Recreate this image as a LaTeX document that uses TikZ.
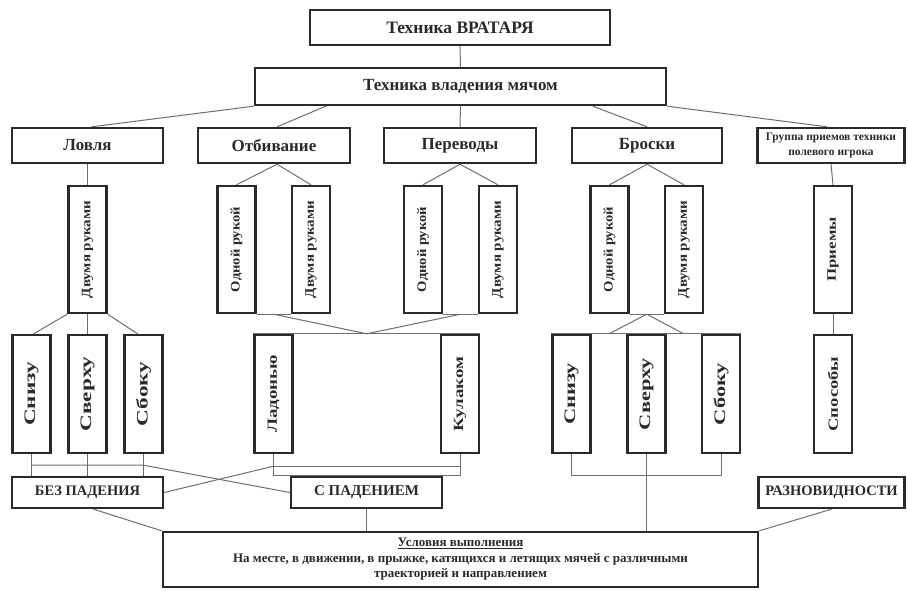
\documentclass[tikz,border=0pt]{standalone}
\usepackage{fontspec}
\setmainfont{Liberation Serif}
\usetikzlibrary{calc,backgrounds}
\definecolor{bd}{HTML}{2A2A2A}
\definecolor{ln}{HTML}{6E6E6E}
\newcommand\fsz[2]{\fontsize{#1}{#2}\selectfont}
\newcommand\vtxt[3]{\rotatebox{90}{\scalebox{#2}[1]{\fsz{#1}{#1}#3}}}
\begin{document}
\begin{tikzpicture}[x=1pt,y=-1pt,
  box/.style={draw=bd, line width=2.4pt, fill=white, inner sep=0pt, align=center, font=\bfseries, text=bd},
  hb/.style={box, minimum height=35pt},
  vb/.style={box, minimum width=38pt},
  conn/.style={draw=ln, line width=1pt}]
\useasboundingbox (0,0) rectangle (908,590);
% top
\node[box, minimum width=300pt, minimum height=35pt] (T) at (460,27.5) {\fsz{17.5}{19}Техника ВРАТАРЯ};
\node[box, minimum width=411pt, minimum height=37pt] (M) at (460.5,86.5) {\fsz{17}{19}Техника владения мячом};
% level 1
\node[hb, minimum width=151pt] (lov) at (87.5,145.5) {\fsz{17}{19}Ловля};
\node[hb, minimum width=152pt] (otb) at (274,145.5) {\fsz{17}{19}Отбивание};
\node[hb, minimum width=152pt] (per) at (460,145.5) {\fsz{17}{19}Переводы};
\node[hb, minimum width=150pt] (bro) at (647,145.5) {\fsz{17}{19}Броски};
\node[hb, minimum width=147pt, font=\bfseries\fsz{11.5}{15}] (grp) at (831,145.5) {Группа приемов техники\\полевого игрока};
% level 2 (vertical)
\node[vb, minimum height=127pt] (lov2) at (87.5,249.5) {\vtxt{13}{1.15}{Двумя руками}};
\node[vb, minimum height=127pt] (otb1) at (236.5,249.5) {\vtxt{13}{1.12}{Одной рукой}};
\node[vb, minimum height=127pt] (otb2) at (311,249.5) {\vtxt{13}{1.15}{Двумя руками}};
\node[vb, minimum height=127pt] (per1) at (423,249.5) {\vtxt{13}{1.12}{Одной рукой}};
\node[vb, minimum height=127pt] (per2) at (498,249.5) {\vtxt{13}{1.15}{Двумя руками}};
\node[vb, minimum height=127pt] (bro1) at (609.5,249.5) {\vtxt{13}{1.12}{Одной рукой}};
\node[vb, minimum height=127pt] (bro2) at (684,249.5) {\vtxt{13}{1.15}{Двумя руками}};
\node[vb, minimum height=127pt] (pri) at (833,249.5) {\vtxt{13}{1.3}{Приемы}};
% level 3 (vertical)
\node[vb, minimum height=118pt] (s1) at (31.5,394) {\vtxt{16}{1.45}{Снизу}};
\node[vb, minimum height=118pt] (s2) at (87.5,394) {\vtxt{16}{1.45}{Сверху}};
\node[vb, minimum height=118pt] (s3) at (143.5,394) {\vtxt{16}{1.45}{Сбоку}};
\node[vb, minimum height=118pt] (lad) at (273.5,394) {\vtxt{14}{1.35}{Ладонью}};
\node[vb, minimum height=118pt] (kul) at (460,394) {\vtxt{14}{1.35}{Кулаком}};
\node[vb, minimum height=118pt] (s4) at (571.5,394) {\vtxt{16}{1.4}{Снизу}};
\node[vb, minimum height=118pt] (s5) at (646.5,394) {\vtxt{16}{1.4}{Сверху}};
\node[vb, minimum height=118pt] (s6) at (721,394) {\vtxt{16}{1.4}{Сбоку}};
\node[vb, minimum height=118pt] (spo) at (833,394) {\vtxt{14}{1.33}{Способы}};
% level 4
\node[box, minimum width=151pt, minimum height=31pt] (bez) at (87.5,492.5) {\fsz{14.5}{16}БЕЗ ПАДЕНИЯ};
\node[box, minimum width=151pt, minimum height=31pt] (spa) at (366.5,492.5) {\fsz{15}{16}С ПАДЕНИЕМ};
\node[box, minimum width=146pt, minimum height=31pt] (raz) at (831.5,492.5) {\fsz{14.5}{16}РАЗНОВИДНОСТИ};
% bottom
\node[box, minimum width=595pt, minimum height=55pt, font=\bfseries\fsz{13}{15.5}] (B) at (460.5,559.5)
  {\underline{Условия выполнения}\\
   На месте, в движении, в прыжке, катящихся и летящих мячей с различными\\
   траекторией и направлением};

\begin{scope}[on background layer]
% level 0 -> 1
\draw[conn] (T.south) -- (M.north);
\draw[conn] (M.south west) -- ($(lov.north)+(4,0)$);
\draw[conn] ($(M.south west)+(72,0)$) -- ($(otb.north)+(3,0)$);
\draw[conn] (M.south) -- (per.north);
\draw[conn] ($(M.south west)+(339,0)$) -- (bro.north);
\draw[conn] (M.south east) -- ($(grp.north)+(-4,0)$);
% level 1 -> 2
\draw[conn] (lov.south) -- (lov2.north);
\draw[conn] ($(otb.south)+(3,0)$) -- (otb1.north);
\draw[conn] ($(otb.south)+(3,0)$) -- (otb2.north);
\draw[conn] (per.south) -- (per1.north);
\draw[conn] (per.south) -- (per2.north);
\draw[conn] (bro.south) -- (bro1.north);
\draw[conn] (bro.south) -- (bro2.north);
\draw[conn] (grp.south) -- (pri.north);
% level 2 -> 3
\draw[conn] (lov2.south west) -- ($(s1.north)+(2,0)$);
\draw[conn] (lov2.south) -- (s2.north);
\draw[conn] (lov2.south east) -- ($(s3.north)+(-6,0)$);
\draw[conn] (otb1.south east) -- (otb2.south west);
\draw[conn] (per1.south east) -- (per2.south west);
\coordinate (J) at ($(lad.north west)!0.5!(kul.north east)$);
\draw[conn] ($(otb1.south east)!0.5!(otb2.south west)$) -- (J);
\draw[conn] ($(per1.south east)!0.5!(per2.south west)$) -- (J);
\draw[conn] (lad.north west) -- (kul.north east);
\draw[conn] (bro1.south east) -- (bro2.south west);
\draw[conn] (s4.north west) -- (s6.north east);
\draw[conn] ($(bro1.south east)!0.5!(bro2.south west)$) -- ($(s4.north east)!0.5!(s5.north west)$);
\draw[conn] ($(bro1.south east)!0.5!(bro2.south west)$) -- ($(s5.north east)!0.5!(s6.north west)$);
\draw[conn] (pri.south) -- (spo.north);
% level 3 -> 4
\draw[conn] (s1.south) -- (s1.south |- bez.north);
\draw[conn] (s2.south) -- (s2.south |- bez.north);
\draw[conn] (s3.south) -- (s3.south |- bez.north);
\coordinate (LH1) at ($(s1.south)+(0,11)$);
\coordinate (LH3) at ($(s3.south)+(0,11)$);
\draw[conn] (LH1) -- (LH3) -- (spa.west);
\coordinate (PL) at ($(lad.south)+(0,12)$);
\coordinate (PK) at ($(kul.south)+(0,12)$);
\draw[conn] (PL) -- (PK);
\draw[conn] (lad.south) -- (lad.south |- spa.north) -- (kul.south |- spa.north) -- (kul.south);
\draw[conn] (bez.east) -- (PL);
\draw[conn] (s4.south) -- (s4.south |- spa.north) -- (s6.south |- spa.north) -- (s6.south);
\draw[conn] (s5.south) -- (s5.south |- B.north);
% level 4 -> bottom
\draw[conn] ($(bez.south)+(6,0)$) -- (B.north west);
\draw[conn] (spa.south) -- (spa.south |- B.north);
\draw[conn] (raz.south) -- (B.north east);
\end{scope}
\end{tikzpicture}
\end{document}
